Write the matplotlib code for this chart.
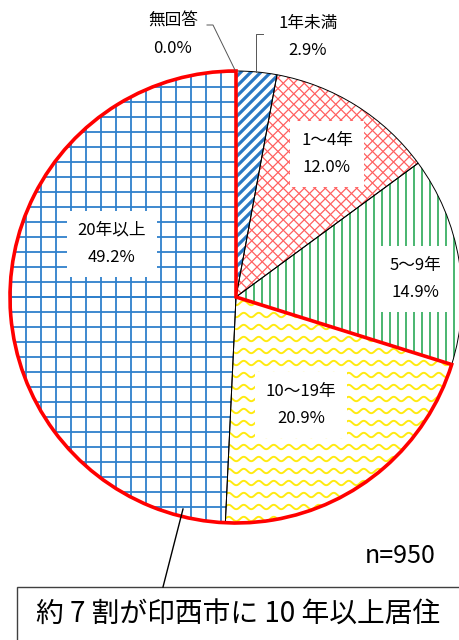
import numpy as np
import matplotlib
matplotlib.use('Agg')
import matplotlib.pyplot as plt
from matplotlib.patches import Wedge, Rectangle
from matplotlib.collections import LineCollection

plt.rcParams['font.family'] = ['Noto Sans CJK JP', 'DejaVu Sans']

# Data (clockwise from 12 o'clock)
labels = ['無回答', '1年未満', '1～4年', '5～9年', '10～19年', '20年以上']
values = [0.0, 2.9, 12.0, 14.9, 20.9, 49.2]
n_total = 950
callout = '約 7 割が印西市に 10 年以上居住'

# Figure in pixel coordinates (y up)
W, H = 459, 640
fig = plt.figure(figsize=(W / 100, H / 100), dpi=100)
ax = fig.add_axes([0, 0, 1, 1])

cx, cy, r = 236, H - 297, 226

wedges, _ = ax.pie(values, startangle=90, counterclock=False, center=(cx, cy),
                   radius=r, colors=['white'] * len(values),
                   wedgeprops=dict(edgecolor='none', zorder=1))
ax.set_xlim(0, W)
ax.set_ylim(0, H)
ax.set_aspect('equal')
ax.axis('off')

x0, x1 = cx - r - 20, cx + r + 20
y0, y1 = cy - r - 20, cy + r + 20


def add_segments(wedge, segs, color, lw):
    lc = LineCollection(segs, colors=color, linewidths=lw, zorder=2)
    ax.add_collection(lc)
    lc.set_clip_path(wedge)


# 1年未満: thick diagonal stripes
segs = [[(x0, y0 + c), (x1, y1 + c)] for c in np.arange(-600, 600, 10)]
add_segments(wedges[1], segs, '#2a78c4', 2.3)

# 1～4年: diamond crosshatch
segs = [[(x0, y0 + c), (x1, y1 + c)] for c in np.arange(-600, 600, 10.5)]
segs += [[(x0, y1 + c), (x1, y0 + c)] for c in np.arange(-600, 600, 10.5)]
add_segments(wedges[2], segs, '#ff6060', 0.9)

# 5～9年: vertical lines
segs = [[(x, y0), (x, y1)] for x in np.arange(x0, x1, 8)]
add_segments(wedges[3], segs, '#3cb065', 1.3)

# 10～19年: zigzag waves
xs = np.arange(x0, x1, 1.0)
segs = [np.column_stack([xs, yb + 2.2 * np.sin(2 * np.pi * xs / 15)])
        for yb in np.arange(y0, y1, 12)]
add_segments(wedges[4], segs, '#ffea10', 1.4)

# 20年以上: grid
segs = [[(x, y0), (x, y1)] for x in np.arange(cx, x0, -15)]
segs += [[(x0, y), (x1, y)] for y in np.arange(cy, y0, -15)]
segs += [[(x0, y), (x1, y)] for y in np.arange(cy, y1, 15)]
add_segments(wedges[5], segs, '#2f80cc', 1.3)

# thin black slice edges
for w in wedges:
    ax.add_patch(Wedge(w.center, w.r, w.theta1, w.theta2, fill=False,
                       ec='black', lw=0.7, zorder=3))

# red outline around 10年以上
ax.add_patch(Wedge((cx, cy), r, wedges[5].theta1, wedges[4].theta2, fill=False,
                   ec='#ff0000', lw=2.6, zorder=4, joinstyle='miter'))

# labels inside
box = dict(boxstyle='square,pad=0.65', fc='white', ec='none')
inside = {2: (327, 154), 3: (415, 279), 4: (301, 405), 5: (112, 244)}
for i, (px, py) in inside.items():
    ax.text(px, H - py, f'{labels[i]}\n{values[i]:.1f}%', ha='center', va='center',
            fontsize=12, linespacing=1.8, bbox=box, zorder=5)

# labels outside with leader lines
ax.text(173, H - 35, f'{labels[0]}\n{values[0]:.1f}%', ha='center', va='center',
        fontsize=12, linespacing=1.8, zorder=5)
ax.plot([235, 213, 207], [H - 70, H - 25, H - 25], color='#555555', lw=0.7, zorder=5)
ax.text(308, H - 37, f'{labels[1]}\n{values[1]:.1f}%', ha='center', va='center',
        fontsize=12, linespacing=1.8, zorder=5)
ax.plot([256, 256, 263], [H - 72, H - 34, H - 34], color='#555555', lw=0.7, zorder=5)

# n
ax.text(436, H - 556, f'n={n_total}', ha='right', va='center', fontsize=18, zorder=5)

# callout box
ax.add_patch(Rectangle((17, -20), 460, H - 587 + 20, fc='white', ec='#404040',
                       lw=1.0, zorder=5))
ax.plot([163, 183], [H - 587, H - 509], color='black', lw=1.0, zorder=5)
ax.text(238, H - 615, callout, ha='center', va='center', fontsize=20, zorder=6)

fig.savefig('out.png', dpi=100)
